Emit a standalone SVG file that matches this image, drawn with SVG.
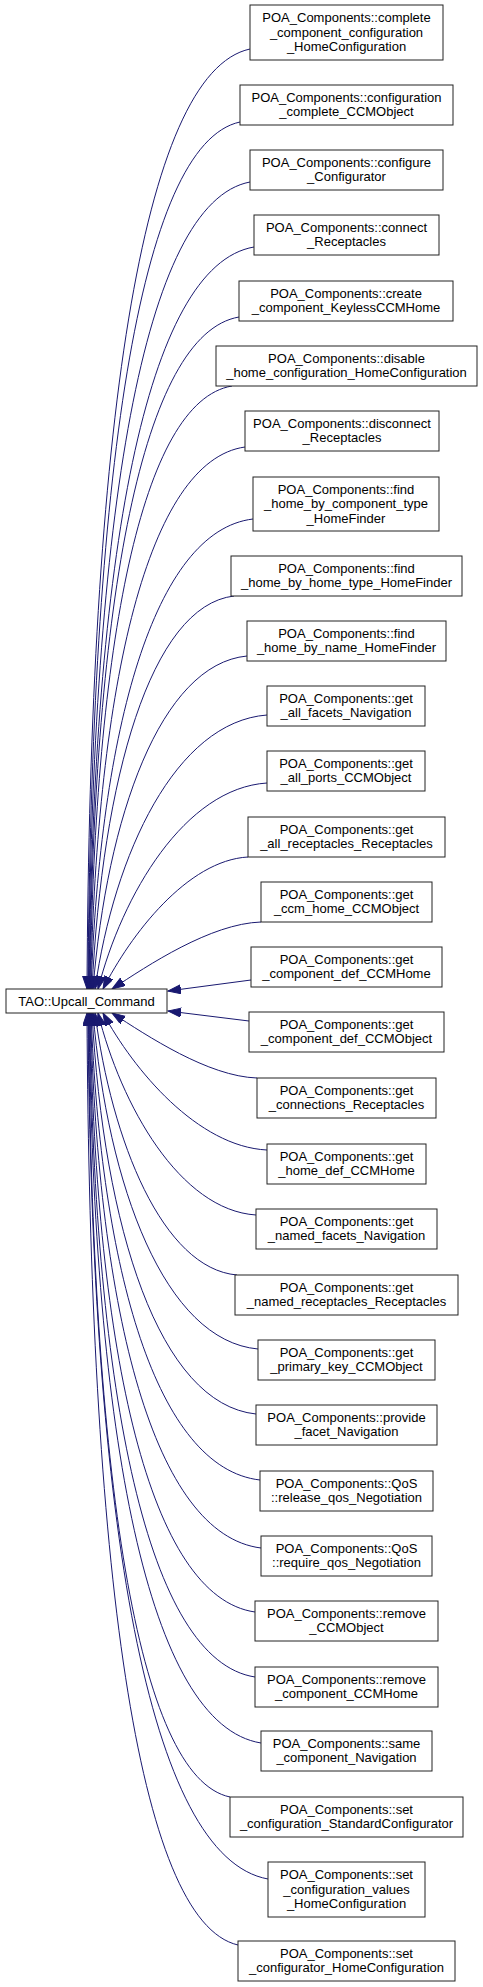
<svg xmlns="http://www.w3.org/2000/svg" width="483" height="1987" viewBox="0 0 483 1987">
<style>
.n rect{fill:#fff;stroke:#222;stroke-width:1}
.n text{font-family:"Liberation Sans",Arial,Helvetica,sans-serif;font-size:13px;fill:#000;text-anchor:middle}
.e path{fill:none;stroke:#191970;stroke-width:1;marker-end:url(#ah)}
</style>
<defs>
<marker id="ah" markerUnits="userSpaceOnUse" markerWidth="14" markerHeight="10" refX="13" refY="4.5" orient="auto">
<path d="M0,0 L13,4.5 L0,9 Z" fill="#191970" stroke="#191970" stroke-width="1"/>
</marker>
</defs>
<rect width="483" height="1987" fill="#fff"/>
<g id="connectors" class="e">
<path d="M250,49 C140.9,72.5 89.8,432 87,989"/>
<path d="M240,122 C138.8,143.7 91,477.5 88,989"/>
<path d="M250,182 C143,202.2 92.1,514.9 88.5,989"/>
<path d="M254,247 C145.6,265.6 93.2,555.9 89,989"/>
<path d="M239,317 C141.9,333.8 94.1,600.3 89.5,989"/>
<path d="M232,386 C141.1,401.1 95.3,644.4 90,989"/>
<path d="M245,447 C147.8,460.6 97.4,683.5 90.5,989"/>
<path d="M253,519 C153.8,530.8 100.2,729.8 91,989"/>
<path d="M234,596 C150.6,605.8 102.4,779.1 92,989"/>
<path d="M247,656 C160.4,664.3 106.9,817.1 93,989"/>
<path d="M267,715 C175.6,721.9 114.3,853.7 95,989"/>
<path d="M267,783 C185.1,788.2 122.3,894.1 98,989"/>
<path d="M248,857 C187.5,860.3 130.6,934.5 103,989"/>
<path d="M261,922 C210.4,923.7 148.3,965.1 112,989"/>
<path d="M251,980 L168,991"/>
<path d="M249,1021 L168,1011"/>
<path d="M257,1078 C208.1,1076.4 147.6,1036.1 112,1013"/>
<path d="M267,1150 C197.7,1146.6 133.6,1070 103,1013"/>
<path d="M256,1215 C179.9,1210 121.1,1105.6 98,1013"/>
<path d="M237,1275 C162.6,1268.5 111.6,1141 95,1013"/>
<path d="M258,1349 C164.9,1340.6 107.8,1186.7 93,1013"/>
<path d="M256,1414 C159.2,1404 103.7,1228 92,1013"/>
<path d="M260,1480 C156.7,1468.3 100.7,1270.3 91,1013"/>
<path d="M261,1548 C154,1534.6 98.3,1314 90.5,1013"/>
<path d="M255,1612 C149.5,1597 96.2,1355 90,1013"/>
<path d="M255,1677 C147.6,1660.4 94.7,1396.6 89.5,1013"/>
<path d="M261,1743 C148.2,1724.8 93.6,1438.5 89,1013"/>
<path d="M230,1797 C136.5,1777.4 91.8,1472.6 88.5,1013"/>
<path d="M268,1879 C148.1,1857.4 91.5,1524 88,1013"/>
<path d="M238,1945 C136.9,1921.7 89.6,1565.1 87,1013"/>
</g>
<g id="tao" class="n"><rect x="6" y="989" width="161" height="24"/><text x="86.5" y="1005.5">TAO::Upcall_Command</text></g>
<g id="n1" class="n"><rect x="250" y="5" width="193" height="55"/><text x="346.5" y="22">POA_Components::complete</text><text x="346.5" y="36.5">_component_configuration</text><text x="346.5" y="51">_HomeConfiguration</text></g>
<g id="n2" class="n"><rect x="240" y="85" width="213" height="40"/><text x="346.5" y="101.75">POA_Components::configuration</text><text x="346.5" y="116.25">_complete_CCMObject</text></g>
<g id="n3" class="n"><rect x="250" y="150" width="193" height="40"/><text x="346.5" y="166.75">POA_Components::configure</text><text x="346.5" y="181.25">_Configurator</text></g>
<g id="n4" class="n"><rect x="254" y="215" width="185" height="40"/><text x="346.5" y="231.75">POA_Components::connect</text><text x="346.5" y="246.25">_Receptacles</text></g>
<g id="n5" class="n"><rect x="239" y="281" width="214" height="40"/><text x="346" y="297.75">POA_Components::create</text><text x="346" y="312.25">_component_KeylessCCMHome</text></g>
<g id="n6" class="n"><rect x="216" y="346" width="261" height="40"/><text x="346.5" y="362.75">POA_Components::disable</text><text x="346.5" y="377.25">_home_configuration_HomeConfiguration</text></g>
<g id="n7" class="n"><rect x="245" y="411" width="194" height="40"/><text x="342" y="427.75">POA_Components::disconnect</text><text x="342" y="442.25">_Receptacles</text></g>
<g id="n8" class="n"><rect x="253" y="477" width="186" height="54"/><text x="346" y="493.5">POA_Components::find</text><text x="346" y="508">_home_by_component_type</text><text x="346" y="522.5">_HomeFinder</text></g>
<g id="n9" class="n"><rect x="231" y="556" width="231" height="40"/><text x="346.5" y="572.75">POA_Components::find</text><text x="346.5" y="587.25">_home_by_home_type_HomeFinder</text></g>
<g id="n10" class="n"><rect x="247" y="621" width="199" height="40"/><text x="346.5" y="637.75">POA_Components::find</text><text x="346.5" y="652.25">_home_by_name_HomeFinder</text></g>
<g id="n11" class="n"><rect x="267" y="686" width="158" height="40"/><text x="346" y="702.75">POA_Components::get</text><text x="346" y="717.25">_all_facets_Navigation</text></g>
<g id="n12" class="n"><rect x="267" y="751" width="158" height="40"/><text x="346" y="767.75">POA_Components::get</text><text x="346" y="782.25">_all_ports_CCMObject</text></g>
<g id="n13" class="n"><rect x="248" y="817" width="197" height="40"/><text x="346.5" y="833.75">POA_Components::get</text><text x="346.5" y="848.25">_all_receptacles_Receptacles</text></g>
<g id="n14" class="n"><rect x="261" y="882" width="171" height="40"/><text x="346.5" y="898.75">POA_Components::get</text><text x="346.5" y="913.25">_ccm_home_CCMObject</text></g>
<g id="n15" class="n"><rect x="251" y="947" width="191" height="40"/><text x="346.5" y="963.75">POA_Components::get</text><text x="346.5" y="978.25">_component_def_CCMHome</text></g>
<g id="n16" class="n"><rect x="249" y="1012" width="195" height="40"/><text x="346.5" y="1028.75">POA_Components::get</text><text x="346.5" y="1043.25">_component_def_CCMObject</text></g>
<g id="n17" class="n"><rect x="257" y="1078" width="179" height="40"/><text x="346.5" y="1094.75">POA_Components::get</text><text x="346.5" y="1109.25">_connections_Receptacles</text></g>
<g id="n18" class="n"><rect x="267" y="1144" width="159" height="40"/><text x="346.5" y="1160.75">POA_Components::get</text><text x="346.5" y="1175.25">_home_def_CCMHome</text></g>
<g id="n19" class="n"><rect x="256" y="1209" width="181" height="40"/><text x="346.5" y="1225.75">POA_Components::get</text><text x="346.5" y="1240.25">_named_facets_Navigation</text></g>
<g id="n20" class="n"><rect x="235" y="1275" width="223" height="40"/><text x="346.5" y="1291.75">POA_Components::get</text><text x="346.5" y="1306.25">_named_receptacles_Receptacles</text></g>
<g id="n21" class="n"><rect x="258" y="1340" width="177" height="40"/><text x="346.5" y="1356.75">POA_Components::get</text><text x="346.5" y="1371.25">_primary_key_CCMObject</text></g>
<g id="n22" class="n"><rect x="256" y="1405" width="181" height="40"/><text x="346.5" y="1421.75">POA_Components::provide</text><text x="346.5" y="1436.25">_facet_Navigation</text></g>
<g id="n23" class="n"><rect x="260" y="1471" width="173" height="40"/><text x="346.5" y="1487.75">POA_Components::QoS</text><text x="346.5" y="1502.25">::release_qos_Negotiation</text></g>
<g id="n24" class="n"><rect x="261" y="1536" width="171" height="40"/><text x="346.5" y="1552.75">POA_Components::QoS</text><text x="346.5" y="1567.25">::require_qos_Negotiation</text></g>
<g id="n25" class="n"><rect x="255" y="1601" width="183" height="40"/><text x="346.5" y="1617.75">POA_Components::remove</text><text x="346.5" y="1632.25">_CCMObject</text></g>
<g id="n26" class="n"><rect x="255" y="1667" width="183" height="40"/><text x="346.5" y="1683.75">POA_Components::remove</text><text x="346.5" y="1698.25">_component_CCMHome</text></g>
<g id="n27" class="n"><rect x="261" y="1731" width="171" height="40"/><text x="346.5" y="1747.75">POA_Components::same</text><text x="346.5" y="1762.25">_component_Navigation</text></g>
<g id="n28" class="n"><rect x="230" y="1797" width="233" height="40"/><text x="346.5" y="1813.75">POA_Components::set</text><text x="346.5" y="1828.25">_configuration_StandardConfigurator</text></g>
<g id="n29" class="n"><rect x="268" y="1862" width="157" height="55"/><text x="346.5" y="1879">POA_Components::set</text><text x="346.5" y="1893.5">_configuration_values</text><text x="346.5" y="1908">_HomeConfiguration</text></g>
<g id="n30" class="n"><rect x="238" y="1941" width="217" height="40"/><text x="346.5" y="1957.75">POA_Components::set</text><text x="346.5" y="1972.25">_configurator_HomeConfiguration</text></g>
</svg>
